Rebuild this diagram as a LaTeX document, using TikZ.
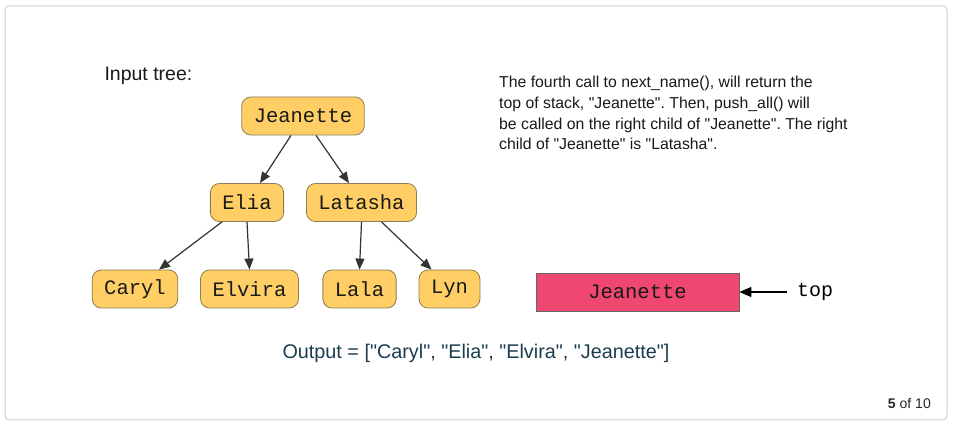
\documentclass[tikz,border=0pt]{standalone}
\usepackage{fontspec}
\setmainfont{Liberation Sans}[Ligatures=TeXOff]
\setmonofont{Liberation Mono}
\usetikzlibrary{arrows.meta}
\frenchspacing
\definecolor{nodefill}{HTML}{FFCF66}
\definecolor{nodeline}{HTML}{8C7B55}
\definecolor{stackfill}{HTML}{EF4770}
\definecolor{edgecol}{HTML}{333333}
\definecolor{outcol}{HTML}{1B3D4F}
\definecolor{framecol}{HTML}{D0D0D0}
\tikzset{
  treenode/.style={draw=nodeline, fill=nodefill, rounded corners=9pt, line width=0.8pt,
    minimum height=38pt, inner xsep=12pt, inner ysep=0pt,
    font=\ttfamily\fontsize{20.5}{22}\selectfont, text=black!90},
  edge/.style={draw=edgecol, line width=1.2pt, -{Triangle[length=11pt,width=9pt]}},
  stackbox/.style={draw=black!60, fill=stackfill, line width=0.8pt, minimum width=203pt,
    minimum height=38pt, inner sep=0pt, font=\ttfamily\fontsize{20.5}{22}\selectfont, text=black!90},
  paraline/.style={anchor=base west, inner sep=0pt, font=\fontsize{15.8}{20}\selectfont\frenchspacing, text=black!90},
}
\begin{document}
\begin{tikzpicture}[x=1pt,y=-1pt]
\useasboundingbox (0,0) rectangle (954,427);
\draw[framecol, line width=1pt, rounded corners=4pt] (5,6) rectangle (947,420);

\node[anchor=west, font=\fontsize{19.5}{22}\selectfont, text=black!90] (title) at (101,76) {Input tree:};

\node[treenode] (J) at (303,116) {Jeanette};
\node[treenode] (E) at (247,202.5) {Elia};
\node[treenode] (L) at (361.5,202.5) {Latasha};
\node[treenode] (C) at (135,289) {Caryl};
\node[treenode] (V) at (249.5,289) {Elvira};
\node[treenode] (A) at (359.5,289) {Lala};
\node[treenode] (Y) at (449.5,289) {Lyn};

\draw[edge] ([xshift=-12pt]J.south) -- ([xshift=13pt]E.north);
\draw[edge] ([xshift=13pt]J.south) -- ([xshift=-12.5pt]L.north);
\draw[edge] ([xshift=-25pt]E.south) -- ([xshift=24pt]C.north);
\draw[edge] (E.south) -- (V.north);
\draw[edge] (L.south) -- (A.north);
\draw[edge] ([xshift=20pt]L.south) -- ([xshift=-18pt]Y.north);

\node[paraline] (p1) at (499,88) {The fourth call to next\_name(), will return the};
\node[paraline] (p2) at (499,108.7) {top of stack, "Jeanette". Then, push\_all() will};
\node[paraline] (p3) at (499,129.3) {be called on the right child of "Jeanette". The right};
\node[paraline] (p4) at (499,150) {child of "Jeanette" is "Latasha".};

\node[stackbox] (S) at (637.5,292) {Jeanette};
\node[anchor=west, inner sep=0pt, font=\ttfamily\fontsize{20}{22}\selectfont] (top) at (797,292) {top};
\coordinate (topend) at (787,292);
\draw[black, line width=1.2pt, -{Triangle[length=12pt,width=10pt]}] (topend) -- (S.east);

\node[anchor=base, inner sep=0pt, font=\fontsize{19.8}{22}\selectfont, text=outcol] (out) at (476,359) {Output = ["Caryl", "Elia", "Elvira", "Jeanette"]};

\node[anchor=east, inner sep=0pt, font=\fontsize{14}{16}\selectfont, text=black!85] (page) at (931,404) {\textbf{5} of 10};
\end{tikzpicture}
\end{document}
